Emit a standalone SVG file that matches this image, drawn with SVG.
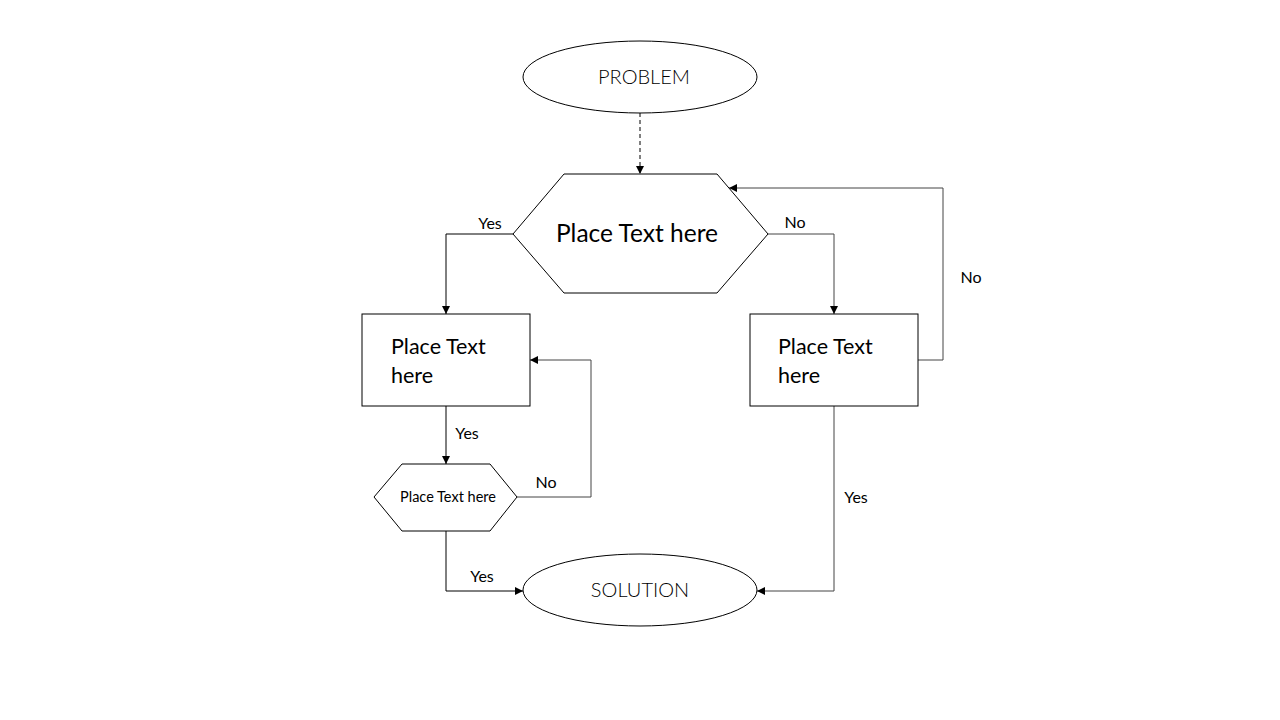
<svg xmlns="http://www.w3.org/2000/svg" width="1280" height="720" viewBox="0 0 1280 720">
<defs>
<marker id="arr" viewBox="0 0 10 10" refX="10" refY="5" markerWidth="8" markerHeight="8" markerUnits="userSpaceOnUse" orient="auto">
<path d="M0,0 L10,5 L0,10 z" fill="#000"/>
</marker>
<style>
.shape{fill:#fff;stroke:#000;stroke-width:1}
.conn{fill:none;stroke:#000;stroke-width:1}
.grey{stroke:#444}
text{font-family:Lato,"Open Sans","Liberation Sans",sans-serif;fill:#000}
.term{font-size:20px;font-weight:300;fill:#000}
.lbl{font-size:16px}
.box{font-size:21.5px}
</style>
</defs>
<rect width="1280" height="720" fill="#fff"/>
<g id="connectors">
<path class="conn" d="M640,113 V174" stroke-dasharray="4,3" marker-end="url(#arr)"/>
<path class="conn" d="M513,234 H446 V314" marker-end="url(#arr)"/>
<path class="conn grey" d="M768,234 H834 V314" marker-end="url(#arr)"/>
<path class="conn grey" d="M918,360 H943 V188 H729" marker-end="url(#arr)"/>
<path class="conn" d="M446,406 V464" marker-end="url(#arr)"/>
<path class="conn grey" d="M517,497 H591 V360 H530" marker-end="url(#arr)"/>
<path class="conn" d="M446,531 V591 H523" marker-end="url(#arr)"/>
<path class="conn grey" d="M834,406 V591 H757" marker-end="url(#arr)"/>
<text class="lbl" x="490" y="229" text-anchor="middle">Yes</text>
<text class="lbl" x="795" y="228" text-anchor="middle">No</text>
<text class="lbl" x="971" y="283" text-anchor="middle">No</text>
<text class="lbl" x="467" y="439" text-anchor="middle">Yes</text>
<text class="lbl" x="546" y="488" text-anchor="middle">No</text>
<text class="lbl" x="482" y="582" text-anchor="middle">Yes</text>
<text class="lbl" x="856" y="503" text-anchor="middle">Yes</text>
</g>
<g id="problem">
<ellipse class="shape" cx="640" cy="77" rx="117" ry="36"/>
<text class="term" x="644" y="84" text-anchor="middle">PROBLEM</text>
</g>
<g id="decision1">
<polygon class="shape" points="564,174 717,174 768,234 717,293 564,293 513,234"/>
<text x="637" y="242" font-size="24.5" text-anchor="middle">Place Text here</text>
</g>
<g id="box-left">
<rect class="shape" x="362" y="314" width="168" height="92"/>
<text class="box" x="391" y="354">Place Text</text>
<text class="box" x="391" y="383">here</text>
</g>
<g id="box-right">
<rect class="shape" x="750" y="314" width="168" height="92"/>
<text class="box" x="778" y="354">Place Text</text>
<text class="box" x="778" y="383">here</text>
</g>
<g id="decision2">
<polygon class="shape" points="402,464 490,464 517,497 490,531 402,531 374,497"/>
<text x="448" y="502" font-size="14.5" text-anchor="middle">Place Text here</text>
</g>
<g id="solution">
<ellipse class="shape" cx="640" cy="590" rx="117" ry="36"/>
<text class="term" x="640" y="597" text-anchor="middle">SOLUTION</text>
</g>
</svg>
